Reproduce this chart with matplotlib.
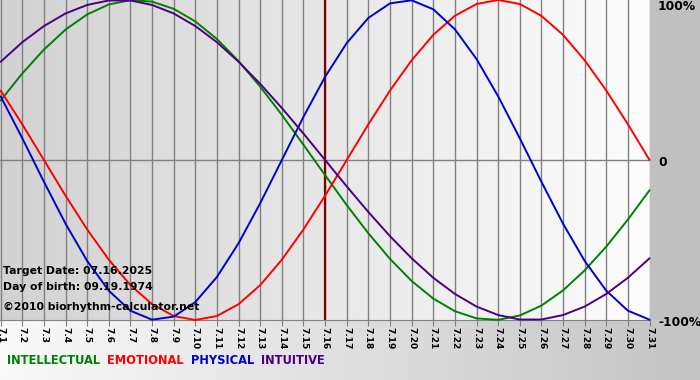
import numpy as np
import matplotlib
matplotlib.use('Agg')
import matplotlib.pyplot as plt

# day labels (July 2025) and daily values
days = ['7.%d' % d for d in range(1, 32)]
physical = [0.398, 0.136, -0.136, -0.398, -0.631, -0.817, -0.942, -0.998, -0.979, -0.888,
            -0.731, -0.520, -0.270, 0.0, 0.270, 0.520, 0.731, 0.888, 0.979, 0.998,
            0.942, 0.817, 0.631, 0.398, 0.136, -0.136, -0.398, -0.631, -0.817, -0.942, -0.998]
emotional = [0.434, 0.223, 0.0, -0.223, -0.434, -0.623, -0.782, -0.901, -0.975, -1.0,
             -0.975, -0.901, -0.782, -0.623, -0.434, -0.223, 0.0, 0.223, 0.434, 0.623,
             0.782, 0.901, 0.975, 1.0, 0.975, 0.901, 0.782, 0.623, 0.434, 0.223, 0.0]
intellectual = [0.372, 0.541, 0.690, 0.815, 0.910, 0.972, 0.999, 0.990, 0.945, 0.866,
                0.756, 0.618, 0.458, 0.282, 0.095, -0.095, -0.282, -0.458, -0.618, -0.756,
                -0.866, -0.945, -0.990, -0.999, -0.972, -0.910, -0.815, -0.690, -0.541, -0.372, -0.189]
intuitive = [0.614, 0.736, 0.837, 0.916, 0.969, 0.997, 0.997, 0.969, 0.916, 0.837,
             0.736, 0.614, 0.476, 0.325, 0.165, 0.0, -0.165, -0.325, -0.476, -0.614,
             -0.736, -0.837, -0.916, -0.969, -0.997, -0.997, -0.969, -0.916, -0.837, -0.736, -0.614]
target_idx = days.index('7.16')
info_lines = ['Target Date: 07.16.2025', 'Day of birth: 09.19.1974', '\u00a92010 biorhythm-calculator.net']
legend_names = ['INTELLECTUAL', 'EMOTIONAL', 'PHYSICAL', 'INTUITIVE']
legend_colors = ['#008000', '#ff0000', '#0000cc', '#4b0082']
y_labels = ['100%', '0', '-100%']

W, H = 700, 380
fig = plt.figure(figsize=(W / 100, H / 100), dpi=100)
fig.patch.set_facecolor('#c0c0c0')

# bottom strip gradient (tick labels + legend area)
bg = fig.add_axes([0, 0, 1, 60 / H])
bg.imshow(np.linspace(0, 1, 256).reshape(1, -1), aspect='auto', extent=[0, 1, 0, 1],
          cmap=matplotlib.colors.LinearSegmentedColormap.from_list('b', ['#fafafa', '#c4c4c4']))
bg.set_axis_off()

ax = fig.add_axes([0, 60 / H, 650 / W, 320 / H])
x = np.arange(len(days))
ax.set_xlim(-0.03, 30.02)
ax.set_ylim(-1.0, 1.0)
ax.imshow(np.linspace(0, 1, 256).reshape(1, -1), aspect='auto', extent=[-0.03, 30.02, -1, 1],
          cmap=matplotlib.colors.LinearSegmentedColormap.from_list('g', ['#d2d2d2', '#fdfdfd']),
          zorder=0)

for xi in x:
    ax.axvline(xi, color='#808080', lw=1, zorder=1)
ax.axhline(0, color='#808080', lw=1, zorder=1)
ax.axvline(x[target_idx], color='#800000', lw=1.6, zorder=2)

for vals, col in [(intellectual, legend_colors[0]), (emotional, legend_colors[1]),
                  (physical, legend_colors[2]), (intuitive, legend_colors[3])]:
    ax.plot(x, vals, color=col, lw=1.4, zorder=3, clip_on=False,
            solid_capstyle='round', solid_joinstyle='round')

for s in ['top', 'right', 'left']:
    ax.spines[s].set_visible(False)
ax.spines['bottom'].set_color('#808080')
ax.set_xticks(x)
ax.set_xticklabels(days, rotation=270, fontsize=6.5, fontweight='bold')
ax.tick_params(axis='x', length=4, color='#808080', pad=1)
ax.set_yticks([])

for i, t in enumerate(info_lines):
    fig.text(3 / W, 1 - [271, 287, 307][i] / H, t, fontsize=7.8, fontweight='bold',
             va='center', ha='left', color='black')

for lab, ypx in zip(y_labels, [7, 162, 322]):
    fig.text(658 / W, 1 - ypx / H, lab, fontsize=8.8, fontweight='bold', va='center', ha='left')

# legend row
xpos = 7
for name, col in zip(legend_names, legend_colors):
    t = fig.text(xpos / W, 1 - 361 / H, name, fontsize=8.3, fontweight='bold', color=col,
                 va='center', ha='left')
    fig.canvas.draw()
    bb = t.get_window_extent()
    xpos += bb.width + 7

fig.savefig('out.png', dpi=100, facecolor=fig.get_facecolor())
